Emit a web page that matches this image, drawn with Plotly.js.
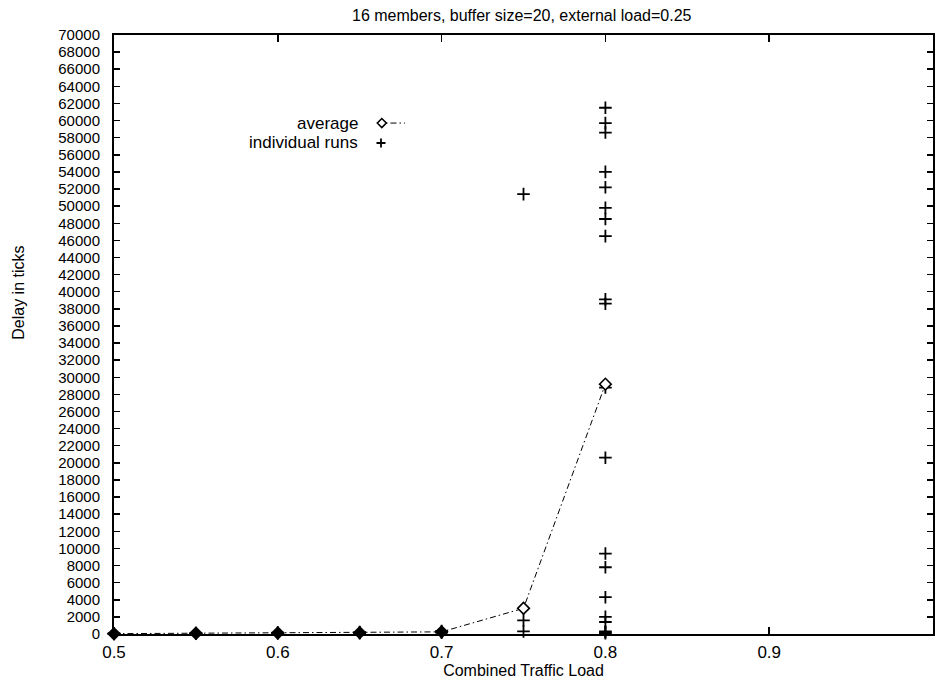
<!DOCTYPE html>
<html>
<head>
<meta charset="utf-8">
<script src="https://cdn.plot.ly/plotly-3.0.1.min.js"></script>
<style>html,body{margin:0;padding:0;background:#fff;}#chart{width:935px;height:680px;}</style>
</head>
<body>
<div id="chart"></div>
<script>
// Combined traffic load values
const loads = [0.5, 0.55, 0.6, 0.65, 0.7, 0.75, 0.8];
// Average delay (ticks) per load
const avgDelay = [40, 80, 120, 160, 250, 3000, 29200];

// Individual runs: x and delay
const runLoads = [
  0.5, 0.5, 0.5,
  0.55, 0.55, 0.55,
  0.6, 0.6, 0.6,
  0.65, 0.65, 0.65,
  0.7, 0.7, 0.7,
  0.75, 0.75, 0.75,
  0.8, 0.8, 0.8, 0.8, 0.8, 0.8, 0.8, 0.8, 0.8, 0.8,
  0.8, 0.8, 0.8, 0.8, 0.8, 0.8, 0.8, 0.8, 0.8, 0.8
];
const runDelay = [
  20, 40, 60,
  50, 80, 110,
  80, 120, 160,
  100, 160, 220,
  150, 250, 350,
  300, 1600, 51400,
  61500, 59700, 58600, 54000, 52200, 49800, 48500, 46500, 39100, 38600,
  28800, 20600, 9400, 7800, 4300, 2000, 1400, 300, 200, 100
];

const xTickVals = [0.5, 0.6, 0.7, 0.8, 0.9, 1.0];
const xTickText = ["0.5", "0.6", "0.7", "0.8", "0.9", "1"];
const yTickVals = [];
for (let v = 0; v <= 70000; v += 2000) yTickVals.push(v);
const yTickText = yTickVals.map(v => String(v));

const fontFam = "'Liberation Sans', Arial, Helvetica, sans-serif";
const DASHDOT = '6px,3px,1.5px,3px';

// diamonds near the axis look solid in the original (overlapping crosses)
const diamondFill = avgDelay.map(v => (v < 1000 ? '#000' : '#fff'));

const traces = [
  {
    x: runLoads, y: runDelay, type: 'scatter', mode: 'markers',
    name: 'individual runs',
    marker: {symbol: 'cross-thin', size: 9, color: '#000', line: {color: '#000', width: 1.8}},
    cliponaxis: false
  },
  {
    x: loads, y: avgDelay, type: 'scatter', mode: 'lines+markers',
    name: 'average',
    line: {color: '#000', width: 1, dash: DASHDOT},
    marker: {symbol: 'diamond', size: 9, color: diamondFill, line: {color: '#000', width: 1.6}},
    cliponaxis: false
  }
];

const layout = {
  width: 935, height: 680,
  margin: {l: 114, r: 2, t: 35, b: 46},
  paper_bgcolor: '#fff', plot_bgcolor: '#fff',
  showlegend: false,
  font: {family: fontFam, size: 16, color: '#000'},
  title: {text: '16 members, buffer size=20, external load=0.25', x: 0.558, xanchor: 'center', y: 0.977, yanchor: 'middle', font: {size: 16, family: fontFam, color: '#000'}},
  xaxis: {
    range: [0.5, 1.0], tickvals: xTickVals, ticktext: xTickText,
    ticks: 'inside', ticklen: 7, tickwidth: 1.5, tickcolor: '#000',
    showline: true, linecolor: '#000', linewidth: 2, mirror: 'ticks',
    showgrid: false, zeroline: false,
    tickfont: {size: 17, family: fontFam},
    ticklabelstandoff: 2,
    title: {text: 'Combined Traffic Load', standoff: 0, font: {size: 16, family: fontFam}}
  },
  yaxis: {
    range: [0, 70000], tickvals: yTickVals, ticktext: yTickText,
    ticks: 'inside', ticklen: 6, tickwidth: 1.5, tickcolor: '#000',
    showline: true, linecolor: '#000', linewidth: 2, mirror: 'ticks',
    showgrid: false, zeroline: false,
    tickfont: {size: 15, family: fontFam},
    ticklabelstandoff: 9
  },
  shapes: [
    // legend sample: dash-dot line for "average"
    {type: 'line', xref: 'paper', yref: 'paper', x0: 0.3211, x1: 0.3553, y0: 0.853, y1: 0.853,
     line: {color: '#000', width: 1, dash: DASHDOT}},
    // legend diamond for "average"
    {type: 'path', xref: 'paper', yref: 'paper', xsizemode: 'pixel', ysizemode: 'pixel',
     xanchor: 0.327, yanchor: 0.853, path: 'M -4.5 0 L 0 -4.5 L 4.5 0 L 0 4.5 Z',
     fillcolor: '#fff', line: {color: '#000', width: 1.6}},
    // legend cross for "individual runs"
    {type: 'path', xref: 'paper', yref: 'paper', xsizemode: 'pixel', ysizemode: 'pixel',
     xanchor: 0.326, yanchor: 0.8197, path: 'M -4.5 0 L 4.5 0 M 0 -4.5 L 0 4.5',
     line: {color: '#000', width: 1.8}}
  ],
  annotations: [
    {text: 'average', xref: 'paper', yref: 'paper', x: 0.3, y: 0.853, xanchor: 'right', yanchor: 'middle', showarrow: false, font: {size: 17, family: fontFam}},
    {text: 'individual runs', xref: 'paper', yref: 'paper', x: 0.3, y: 0.8197, xanchor: 'right', yanchor: 'middle', showarrow: false, font: {size: 17, family: fontFam}},
    // y-axis title
    {text: 'Delay in ticks', xref: 'paper', yref: 'paper', x: -0.117, y: 0.57, xanchor: 'center', yanchor: 'middle', textangle: -90, showarrow: false, font: {size: 16, family: fontFam}}
  ]
};

Plotly.newPlot('chart', traces, layout, {displayModeBar: false, staticPlot: true});
</script>
</body>
</html>
